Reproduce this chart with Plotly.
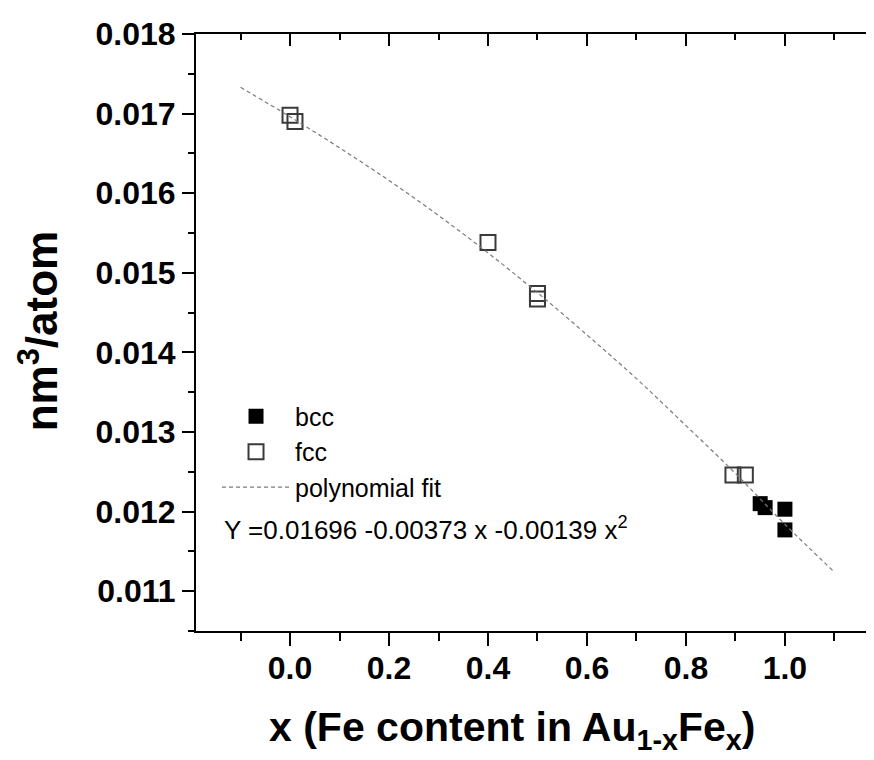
import plotly.graph_objects as go

# ---- data ----
bcc_x = [0.95, 0.96, 1.0, 1.0]
bcc_y = [0.01210, 0.01205, 0.01203, 0.01177]

fcc_x = [0.0, 0.01, 0.40, 0.50, 0.50, 0.895, 0.92]
fcc_y = [0.01698, 0.01690, 0.01538, 0.01474, 0.01467, 0.01246, 0.01246]

fit_x = [-0.1, 0.0, 0.1, 0.2, 0.3, 0.4, 0.5, 0.6, 0.7, 0.8, 0.9, 1.0, 1.1]
fit_y = [0.01733, 0.01696, 0.01657, 0.01616, 0.01572, 0.01525, 0.01475,
         0.01422, 0.01367, 0.01308, 0.01248, 0.01184, 0.01124]

x_ticks = [0.0, 0.2, 0.4, 0.6, 0.8, 1.0]
y_ticks = [0.011, 0.012, 0.013, 0.014, 0.015, 0.016, 0.017, 0.018]

equation = "Y =0.01696 -0.00373 x -0.00139 x<sup>2</sup>"
x_title = "x (Fe content in Au<sub>1-x</sub>Fe<sub>x</sub>)"
y_title = "nm<sup>3</sup>/atom"

FONT = "Liberation Sans, Arial, sans-serif"
X_RANGE = [-0.19, 1.18]
Y_RANGE = [0.0105, 0.018]

fig = go.Figure()

fig.add_trace(go.Scatter(
    x=fit_x, y=fit_y, mode="lines", name="polynomial fit",
    line=dict(color="#7a7a7a", width=1.2, dash="4px,3px", shape="spline"),
    legendrank=3, xaxis="x2", yaxis="y2",
))
fig.add_trace(go.Scatter(
    x=bcc_x, y=bcc_y, mode="markers", name="bcc",
    marker=dict(symbol="square", size=15, color="black", line=dict(width=0)),
    legendrank=1,
))
fig.add_trace(go.Scatter(
    x=fcc_x, y=fcc_y, mode="markers", name="fcc",
    marker=dict(symbol="square-open", size=15, color="#3a3a3a", line=dict(width=2)),
    legendrank=2,
))

tickfont = dict(family=FONT, size=32, color="black", weight="bold")

# the page body has an 8px margin, so the figure is sized/margined to compensate
fig.update_layout(
    width=866, height=752,
    margin=dict(l=188, r=0, t=26, b=129),
    paper_bgcolor="white", plot_bgcolor="white",
    showlegend=True,
    legend=dict(
        x=0.031, y=0.398, xanchor="left", yanchor="top",
        font=dict(family=FONT, size=25, color="black"),
        bgcolor="rgba(0,0,0,0)", borderwidth=0, itemwidth=68,
        tracegroupgap=0,
    ),
    xaxis=dict(
        range=X_RANGE, showgrid=False, zeroline=False,
        showline=True, linewidth=2, linecolor="black",
        ticks="outside", ticklen=13, tickwidth=2, tickcolor="black",
        tickvals=x_ticks, tickformat=".1f", tickfont=tickfont,
        ticklabelstandoff=-5,
        minor=dict(ticks="outside", ticklen=8, tickwidth=2, tickcolor="black",
                   dtick=0.1, tick0=0, showgrid=False),
    ),
    xaxis2=dict(
        range=X_RANGE, overlaying="x", matches="x", side="top", anchor="y",
        showgrid=False, zeroline=False, showticklabels=False,
        showline=True, linewidth=2, linecolor="black",
        ticks="inside", ticklen=12, tickwidth=2, tickcolor="black",
        tickvals=x_ticks,
        minor=dict(ticks="inside", ticklen=6, tickwidth=2, tickcolor="black",
                   dtick=0.1, tick0=0, showgrid=False),
    ),
    yaxis=dict(
        range=Y_RANGE, showgrid=False, zeroline=False,
        showline=True, linewidth=2, linecolor="black",
        ticks="outside", ticklen=12, tickwidth=2, tickcolor="black",
        tickvals=y_ticks, tickformat=".3f", tickfont=tickfont,
        minor=dict(ticks="outside", ticklen=6, tickwidth=2, tickcolor="black",
                   dtick=0.0005, tick0=0.011, showgrid=False),
    ),
    yaxis2=dict(
        range=Y_RANGE, overlaying="y", matches="y", side="right", anchor="x",
        showgrid=False, zeroline=False, showticklabels=False, showline=False,
        ticks="inside", ticklen=7, tickwidth=2, tickcolor="black",
        tickvals=y_ticks,
        minor=dict(ticks="inside", ticklen=3, tickwidth=2, tickcolor="black",
                   dtick=0.0005, tick0=0.011, showgrid=False),
    ),
    annotations=[
        dict(text=equation, xref="paper", yref="paper", x=0.038, y=0.172,
             xanchor="left", yanchor="middle", showarrow=False,
             font=dict(family=FONT, size=26, color="black")),
        dict(text=x_title, xref="paper", yref="paper", x=0.466, y=-0.119,
             xanchor="center", yanchor="top", showarrow=False,
             font=dict(family=FONT, size=41, color="black", weight="bold")),
        dict(text=y_title, xref="paper", yref="paper", x=-0.233, y=0.502,
             xanchor="center", yanchor="middle", showarrow=False, textangle=-90,
             font=dict(family=FONT, size=44, color="black", weight="bold")),
    ],
)

fig.write_html("out.html")
